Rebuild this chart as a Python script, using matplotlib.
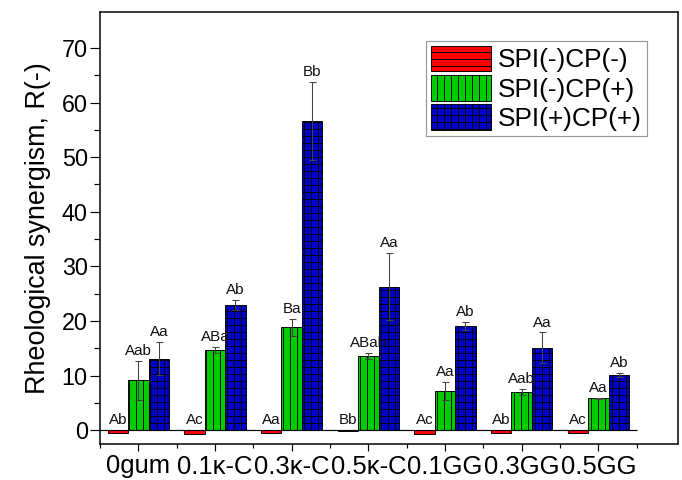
import numpy as np
import matplotlib
matplotlib.use("Agg")
import matplotlib.pyplot as plt

plt.rcParams['font.family'] = ['Liberation Sans', 'DejaVu Sans']
plt.rcParams['hatch.linewidth'] = 0.8
plt.rcParams['hatch.color'] = 'black'

# data
categories = ['0gum', '0.1κ-C', '0.3κ-C', '0.5κ-C', '0.1GG', '0.3GG', '0.5GG']
series = ['SPI(-)CP(-)', 'SPI(-)CP(+)', 'SPI(+)CP(+)']

red_vals = [-0.6, -0.8, -0.5, -0.1, -0.7, -0.6, -0.6]
green_vals = [9.1, 14.7, 18.8, 13.6, 7.2, 7.0, 5.8]
blue_vals = [13.1, 22.9, 56.6, 26.3, 19.1, 15.1, 10.1]

green_err = [3.5, 0.5, 1.6, 0.5, 1.6, 0.6, 0.15]
blue_err = [3.0, 0.9, 7.2, 6.1, 0.7, 2.8, 0.3]

red_labels = ['Ab', 'Ac', 'Aa', 'Bb', 'Ac', 'Ab', 'Ac']
green_labels = ['Aab', 'ABa', 'Ba', 'ABab', 'Aa', 'Aab', 'Aa']
blue_labels = ['Aa', 'Ab', 'Bb', 'Aa', 'Ab', 'Aa', 'Ab']

colors = ['#FF0000', '#00CC00', '#0000C8']
hatches = ['--', '||', '++']

dpi = 84
fig = plt.figure(figsize=(682 / dpi, 480 / dpi), dpi=dpi)
ax = fig.add_axes([100 / 682, 36 / 480, 578 / 682, 432 / 480])

x = np.arange(len(categories))
w = 0.267

vals = [red_vals, green_vals, blue_vals]
errs = [None, green_err, blue_err]
labels = [red_labels, green_labels, blue_labels]
offsets = [-w, 0, w]

for i in range(3):
    ax.bar(x + offsets[i], vals[i], w, color=colors[i], edgecolor='black',
           linewidth=0.8, hatch=hatches[i], label=series[i], zorder=2)
    if errs[i] is not None:
        ax.errorbar(x + offsets[i], vals[i], yerr=errs[i], fmt='none',
                    ecolor='#444444', elinewidth=0.9, capsize=3, capthick=0.9, zorder=3)
    for j in range(len(categories)):
        top = max(vals[i][j], 0)
        if errs[i] is not None:
            top = vals[i][j] + errs[i][j]
        ax.annotate(labels[i][j], (x[j] + offsets[i], top), xytext=(0, 5),
                    textcoords='offset points', ha='center', va='baseline',
                    fontsize=13, color='#111111')

ax.hlines(0, -0.5, len(categories) - 0.5, color='black', linewidth=1, zorder=4)

ax.set_xlim(-0.5, 7.04)
ax.set_ylim(-2.55, 76.6)
ax.set_xticks(x)
ax.set_xticklabels(categories, fontsize=22)
ax.set_xticks(np.arange(-0.5, len(categories), 1), minor=True)
ax.set_yticks(np.arange(0, 71, 10))
ax.set_yticks(np.arange(5, 71, 10), minor=True)
ax.tick_params(axis='y', labelsize=20, direction='out', length=8.5, width=1, pad=2)
ax.tick_params(axis='y', which='minor', direction='out', length=5, width=1)
ax.tick_params(axis='x', direction='out', length=6, width=1, pad=3)
ax.tick_params(axis='x', which='minor', direction='out', length=3, width=1)
ax.set_ylabel('Rheological synergism, R(-)', fontsize=23, labelpad=9)

for s in ax.spines.values():
    s.set_linewidth(1.3)

leg = ax.legend(loc='upper right', bbox_to_anchor=(0.946, 0.933), borderaxespad=0,
                fontsize=22.5, frameon=True, fancybox=False, edgecolor='#808080',
                handlelength=2.3, handleheight=1.12, handletextpad=0.27,
                labelspacing=0.1, borderpad=0.18)
leg.get_frame().set_linewidth(1.0)

fig.savefig('out.png', dpi=dpi)
